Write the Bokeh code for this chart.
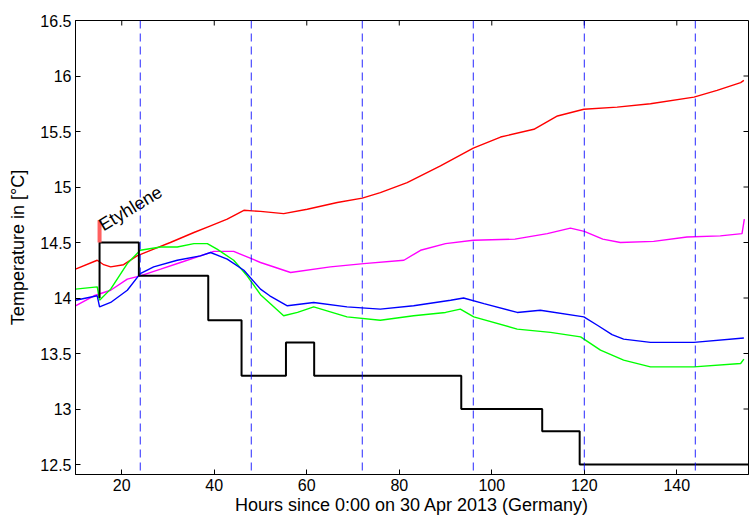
import math
from bokeh.plotting import figure
from bokeh.models import Range1d, FixedTicker, Span
from bokeh.core.properties import value
from bokeh.embed import file_html
from bokeh.resources import INLINE

# ---- data ----
x_ticks = [20, 40, 60, 80, 100, 120, 140]
y_ticks = [12.5, 13, 13.5, 14, 14.5, 15, 15.5, 16, 16.5]
y_tick_labels = ["12.5", "13", "13.5", "14", "14.5", "15", "15.5", "16", "16.5"]
day_marks = [24, 48, 72, 96, 120, 144]

red_x = [10.0, 14.7, 16.1, 17.6, 20.4, 23.3, 26.9, 30.5, 35.6, 39.2, 42.8, 46.4, 50.0,
         55.0, 60.1, 66.6, 72.0, 75.9, 81.7, 88.9, 96.0, 101.9, 109.1, 114.2, 119.9,
         127.1, 134.3, 143.7, 148.7, 153.8, 154.5]
red_y = [14.26, 14.34, 14.30, 14.28, 14.30, 14.38, 14.44, 14.50, 14.59, 14.65, 14.71, 14.79, 14.78,
         14.76, 14.80, 14.86, 14.90, 14.95, 15.04, 15.19, 15.35, 15.45, 15.52, 15.64, 15.70,
         15.72, 15.75, 15.81, 15.87, 15.94, 15.96]

magenta_x = [10.0, 14.0, 17.6, 21.2, 24.0, 28.4, 32.7, 37.0, 39.9, 44.2, 47.1, 50.0, 56.5,
             65.1, 72.3, 81.0, 84.6, 90.0, 96.0, 105.0, 112.0, 117.0, 120.0, 124.0, 127.8,
             135.0, 142.2, 149.4, 154.1, 154.6]
magenta_y = [13.93, 14.02, 14.07, 14.17, 14.20, 14.26, 14.32, 14.38, 14.42, 14.42, 14.37, 14.32, 14.23,
             14.28, 14.31, 14.34, 14.43, 14.49, 14.52, 14.53, 14.58, 14.63, 14.60, 14.53, 14.50,
             14.51, 14.55, 14.56, 14.58, 14.71]

blue_x = [10.0, 14.7, 15.2, 17.6, 21.2, 24.0, 26.9, 32.0, 37.0, 39.2, 42.8, 46.4, 50.0, 52.0,
          55.8, 61.5, 68.7, 75.9, 83.1, 91.1, 93.9, 98.3, 105.5, 110.5, 119.9, 123.0, 126.0,
          128.5, 134.3, 143.7, 154.5]
blue_y = [13.98, 14.02, 13.92, 13.96, 14.07, 14.22, 14.28, 14.34, 14.38, 14.41, 14.35, 14.25, 14.08, 14.02,
          13.93, 13.96, 13.92, 13.90, 13.93, 13.98, 14.00, 13.95, 13.87, 13.89, 13.83, 13.75, 13.67,
          13.63, 13.60, 13.60, 13.64]

green_x = [10.0, 14.7, 15.2, 17.6, 21.2, 24.0, 28.4, 32.0, 35.6, 38.5, 40.6, 44.2, 47.1, 50.0,
           55.0, 58.0, 61.5, 68.7, 75.9, 83.1, 90.0, 93.2, 96.1, 105.5, 112.7, 119.2, 123.5,
           128.5, 134.3, 143.7, 153.8, 154.5]
green_y = [14.08, 14.10, 13.98, 14.08, 14.31, 14.43, 14.46, 14.46, 14.49, 14.49, 14.44, 14.34, 14.20, 14.03,
           13.84, 13.87, 13.92, 13.83, 13.80, 13.84, 13.87, 13.90, 13.83, 13.72, 13.69, 13.65, 13.53,
           13.44, 13.38, 13.38, 13.41, 13.45]

set_x = [15.2, 15.2, 23.7, 38.7, 45.9, 55.5, 61.6, 93.4, 110.9, 119.0, 155.5]
set_y = [14.0, 14.5, 14.2, 13.8, 13.3, 13.6, 13.3, 13.0, 12.8, 12.5, 12.5]

ethylene_x = 15.2
ethylene_y0, ethylene_y1 = 14.5, 14.7
ethylene_label = "Etyhlene"

X_MIN, X_MAX = 10, 155.5
Y_MIN, Y_MAX = 12.41, 16.5

FONT = "Liberation Sans"

p = figure(width=750, height=517, x_range=Range1d(X_MIN, X_MAX), y_range=Range1d(Y_MIN, Y_MAX),
           output_backend="svg", toolbar_location=None,
           min_border_left=75, min_border_right=2, min_border_top=20, min_border_bottom=43)
p.grid.visible = False
p.outline_line_color = "black"
p.outline_line_width = 1
p.background_fill_color = "white"
p.border_fill_color = "white"

xt = FixedTicker(ticks=x_ticks)
yt = FixedTicker(ticks=y_ticks)

for ax in p.xaxis:
    ax.ticker = xt
for ax in p.yaxis:
    ax.ticker = yt
    ax.major_label_overrides = {t: s for t, s in zip(y_ticks, y_tick_labels)}

for ax in list(p.xaxis) + list(p.yaxis):
    ax.major_tick_in = 5
    ax.major_tick_out = 0
    ax.minor_tick_line_color = None
    ax.axis_line_color = "black"
    ax.major_tick_line_color = "black"
    ax.major_label_text_font = FONT
    ax.major_label_text_font_size = "16px"
    ax.major_label_text_color = "black"
    ax.axis_label_text_font = FONT
    ax.axis_label_text_font_size = "18px"
    ax.axis_label_text_font_style = "normal"
    ax.axis_label_text_color = "black"

p.xaxis.axis_label = "Hours since 0:00 on 30 Apr 2013 (Germany)"
p.yaxis.axis_label = "Temperature in [°C]"
p.xaxis.major_label_standoff = 4
p.xaxis.axis_label_standoff = 1
p.yaxis.major_label_standoff = 4
p.yaxis.axis_label_standoff = 9

# inner ticks on the top and right edges of the box
p.ray(x=x_ticks, y=[Y_MAX] * len(x_ticks), length=5, length_units="screen",
      angle=-math.pi / 2, line_color="black", line_width=1)
p.ray(x=[X_MAX] * len(y_ticks), y=y_ticks, length=5, length_units="screen",
      angle=math.pi, line_color="black", line_width=1)

for d in day_marks:
    p.add_layout(Span(location=d, dimension="height", line_color="#0000ff",
                      line_dash="8 5", line_width=1, line_alpha=0.85))

p.line(red_x, red_y, line_color="#ff0000", line_width=1.4)
p.line(magenta_x, magenta_y, line_color="#ff00ff", line_width=1.4)
p.line(green_x, green_y, line_color="#00ff00", line_width=1.4)
p.line(blue_x, blue_y, line_color="#0000ff", line_width=1.4)
p.step(set_x, set_y, mode="after", line_color="black", line_width=2)

p.segment(x0=[ethylene_x], y0=[ethylene_y0], x1=[ethylene_x], y1=[ethylene_y1],
          line_color="#ff6060", line_width=4)
p.text(x=[ethylene_x + 0.2], y=[14.645], text=[ethylene_label], angle=0.54,
       text_font=value(FONT), text_font_size="18px", text_color="black",
       text_baseline="alphabetic", text_align="left")

open("out.html", "w").write(file_html(p, INLINE))
